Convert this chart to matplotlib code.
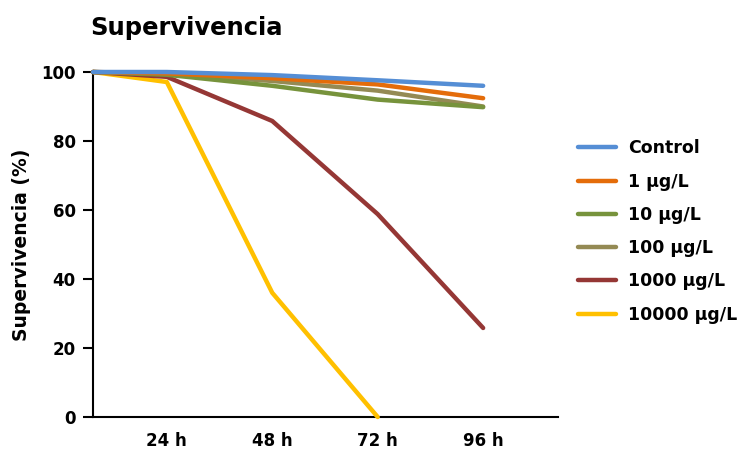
import numpy as np
import matplotlib
matplotlib.use('Agg')
import matplotlib.pyplot as plt

# datos
tiempos = ['', '24 h', '48 h', '72 h', '96 h']
x_pos = [0.3, 1, 2, 3, 4]

control = [100, 100, 99.1, 97.6, 96.0]
c1 = [100, 99.6, 98.2, 96.4, 92.4]
c10 = [100, 99.2, 96.0, 92.0, 89.8]
c100 = [100, 99.5, 97.4, 94.6, 90.0]
c1000 = [100, 98.6, 85.8, 58.8, 25.8]
c10000 = [100, 97.1, 36.0, 0, None]

series = [control, c1, c10, c100, c1000, c10000]
nombres = ['Control', '1 µg/L', '10 µg/L', '100 µg/L', '1000 µg/L', '10000 µg/L']
colores = ['#558ED5', '#E46C0A', '#77933C', '#948A54', '#953735', '#FFC000']

plt.rcParams['font.family'] = 'DejaVu Sans'
plt.rcParams['font.weight'] = 'bold'

fig = plt.figure(figsize=(7.41, 4.5), dpi=100)
ax = fig.add_axes([93/741, 1-417/450, (558-93)/741, (417-72)/450])

n = len(series)
for i, (s, nom, col) in enumerate(zip(series, nombres, colores)):
    xs = [x for x, v in zip(x_pos, s) if v is not None]
    ys = [v for v in s if v is not None]
    ax.plot(xs, ys, color=col, lw=3.2, label=nom, zorder=10+n-i,
            solid_capstyle='round', clip_on=False)

ax.set_xlim(0.3, 4.71)
ax.set_ylim(0, 100)
ax.set_xticks(x_pos[1:])
ax.set_xticklabels(tiempos[1:], fontsize=12, fontweight='bold')
ax.tick_params(axis='x', length=0, pad=11)
ax.set_yticks(np.arange(0, 101, 20))
ax.tick_params(axis='y', length=7.5, width=1.5, labelsize=12, pad=5)
for lab in ax.get_yticklabels():
    lab.set_fontweight('bold')

ax.spines['top'].set_visible(False)
ax.spines['right'].set_visible(False)
ax.spines['left'].set_linewidth(1.5)
ax.spines['bottom'].set_linewidth(1.5)

ax.set_ylabel('Supervivencia (%)', fontsize=13.5, fontweight='bold', labelpad=7)
fig.text(90/741, 1-28/450, 'Supervivencia', fontsize=17.5, fontweight='bold',
         ha='left', va='center')

fig.legend(loc='center left', bbox_to_anchor=(578/741, 1-231.5/450),
           frameon=False, handlelength=2.2, handletextpad=0.7,
           labelspacing=0.88, borderpad=0, borderaxespad=0,
           prop={'weight': 'bold', 'size': 12.5})

fig.savefig('out.png', dpi=100)
